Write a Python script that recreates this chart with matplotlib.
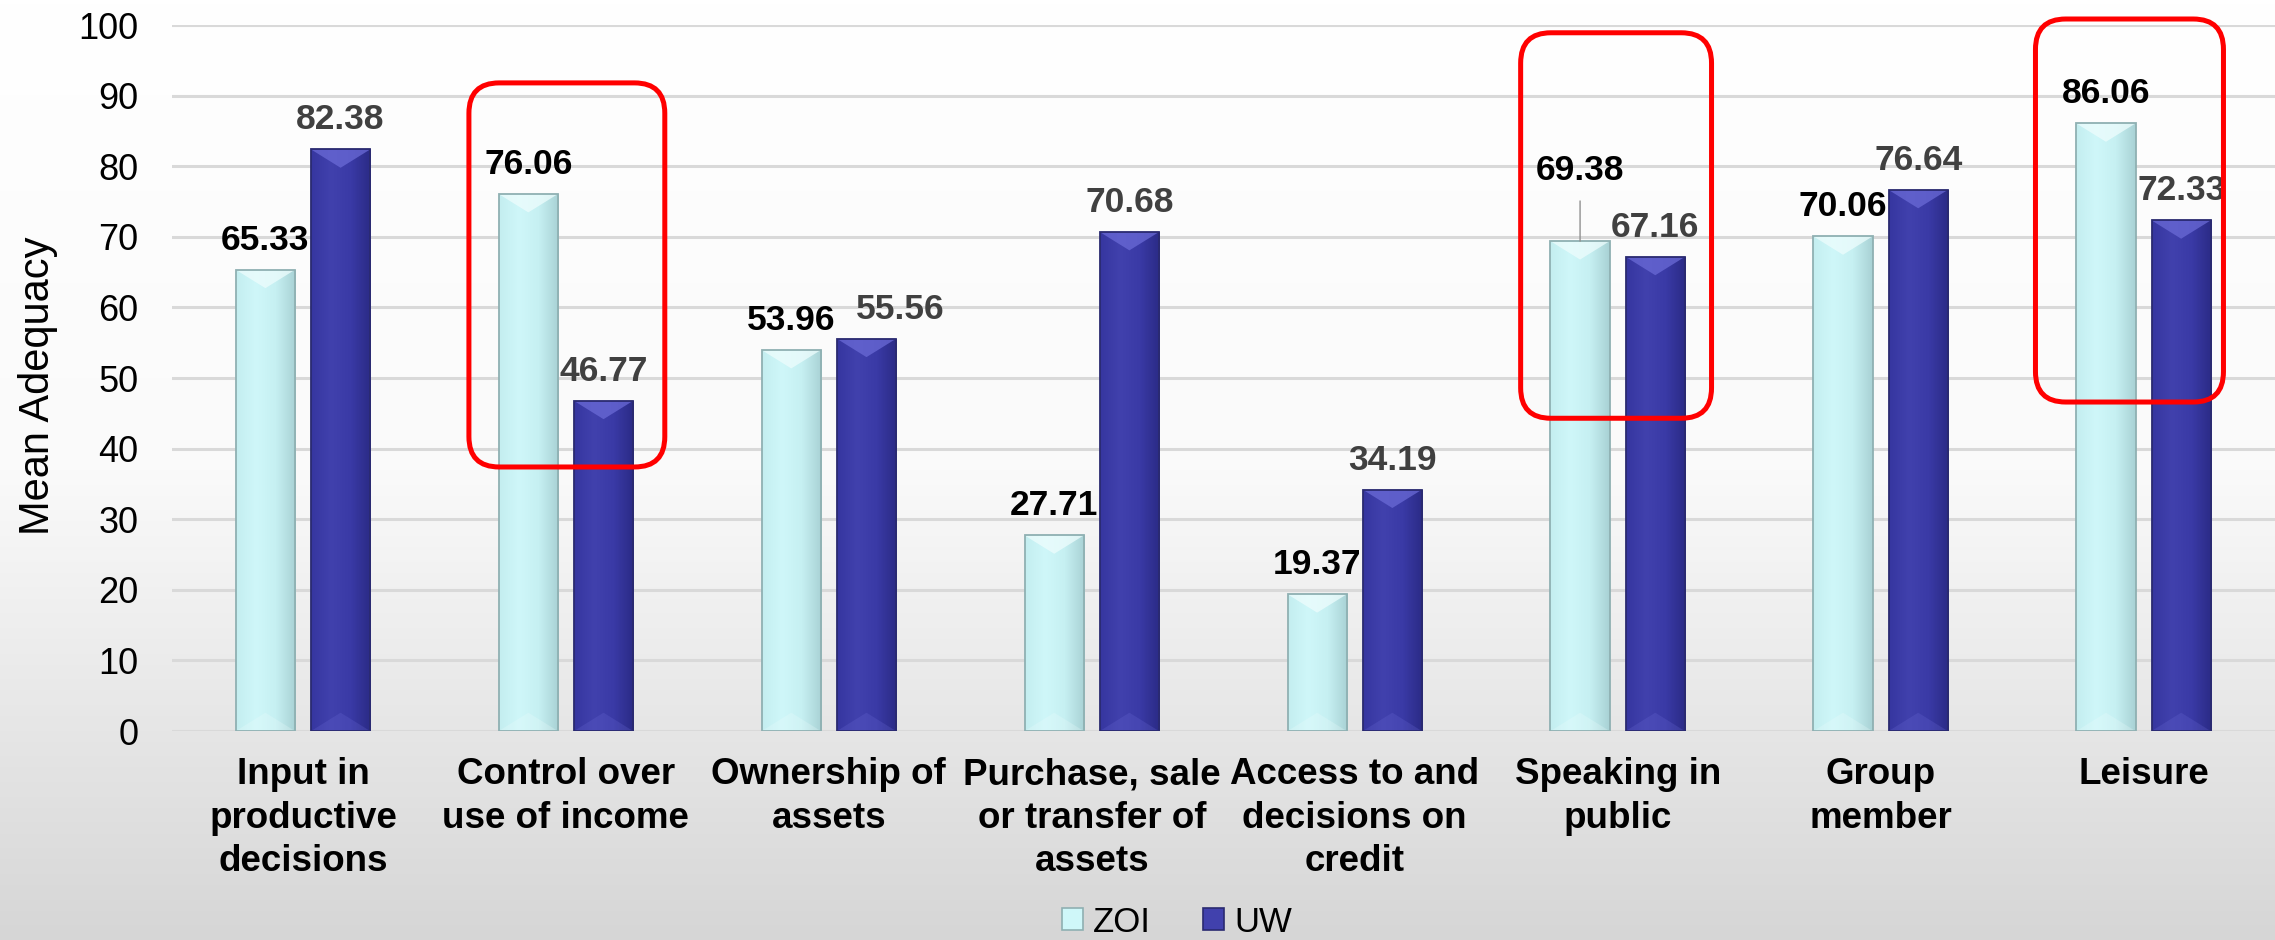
import numpy as np
import matplotlib
matplotlib.use("Agg")
import matplotlib.pyplot as plt
from matplotlib.patches import FancyBboxPatch, Polygon, Patch
from matplotlib.colors import LinearSegmentedColormap

# ---------------- data ----------------
categories = ["Input in\nproductive\ndecisions", "Control over\nuse of income",
              "Ownership of\nassets", "Purchase, sale\nor transfer of\nassets",
              "Access to and\ndecisions on\ncredit", "Speaking in\npublic",
              "Group\nmember", "Leisure"]
zoi = [65.33, 76.06, 53.96, 27.71, 19.37, 69.38, 70.06, 86.06]
uw = [82.38, 46.77, 55.56, 70.68, 34.19, 67.16, 76.64, 72.33]
series_names = ["ZOI", "UW"]
yticks = list(range(0, 101, 10))
ylabel = "Mean Adequacy"

plt.rcParams['font.family'] = ['Liberation Sans', 'DejaVu Sans']

fig = plt.figure(figsize=(22.75, 9.4), dpi=100)

# background gradient
bg = fig.add_axes([0, 0, 1, 1], zorder=-10)
grad = np.linspace(0, 1, 256).reshape(-1, 1)
bg.imshow(grad, aspect='auto', origin='upper', extent=[0, 1, 0, 1],
          cmap=LinearSegmentedColormap.from_list('bg', ['#ffffff', '#fafafa', '#d6d6d6']))
bg.axis('off')

ax = fig.add_axes([0.0754, 0.2223, 0.9246, 0.7511])
ax.patch.set_alpha(0)

x = np.arange(len(categories))
w = 0.225
off = 0.143

styles = {
    "ZOI": dict(grad=['#c4eef0', '#cff7f9', '#c6f0f2', '#a9d2d5'], edge='#8fb0b2',
                bevel='#eefdfd', label_color='#000000'),
    "UW": dict(grad=['#3636a0', '#4141ad', '#3a3aa6', '#2b2b86'], edge='#2a2a70',
               bevel='#6a6ad6', label_color='#404040'),
}

ax.set_xlim(-0.5, len(categories) - 0.5)
ax.set_ylim(0, 100)

for sname, vals, sign in [("ZOI", zoi, -1), ("UW", uw, 1)]:
    st = styles[sname]
    bars = ax.bar(x + sign * off, vals, w, color=st['grad'][1], edgecolor=st['edge'],
                  linewidth=1.3, zorder=3)
    cmap = LinearSegmentedColormap.from_list(sname, st['grad'])
    hg = np.linspace(0, 1, 64).reshape(1, -1)
    for b in bars:
        x0, y0 = b.get_x(), b.get_y()
        bw, bh = b.get_width(), b.get_height()
        im = ax.imshow(hg, aspect='auto', cmap=cmap, extent=[x0, x0 + bw, y0, y0 + bh],
                       zorder=3.5)
        im.set_clip_path(b)
        d = 2.6
        tri = Polygon([(x0, bh), (x0 + bw, bh), (x0 + bw / 2, bh - d)], closed=True,
                      facecolor=st['bevel'], edgecolor='none', alpha=0.75, zorder=3.6)
        ax.add_patch(tri)
        tri2 = Polygon([(x0, 0), (x0 + bw, 0), (x0 + bw / 2, d)], closed=True,
                       facecolor=st['bevel'], edgecolor='none', alpha=0.25, zorder=3.6)
        ax.add_patch(tri2)
        b.set_facecolor('none')
        b.set_zorder(3.8)

ax.set_xlim(-0.5, len(categories) - 0.5)
ax.set_ylim(0, 100)

# value labels (offsets in points: (dx, dy))
label_offsets = {("ZOI", 5): (0, 44), ("UW", 2): (24, 14.4)}
for sname, vals, sign in [("ZOI", zoi, -1), ("UW", uw, 1)]:
    st = styles[sname]
    for i, v in enumerate(vals):
        bx = x[i] + sign * off
        key = (sname, i)
        dx, dy = label_offsets.get(key, (0, 14.4))
        kw = dict(textcoords='offset points', ha='center', va='baseline',
                  fontsize=25.5, fontweight='bold', color=st['label_color'], zorder=7)
        if dy > 30:
            kw['arrowprops'] = dict(arrowstyle='-', color='#909090', lw=1.0,
                                    shrinkA=8, shrinkB=0)
        ax.annotate(f"{v:.2f}", xy=(bx, v), xytext=(dx, dy), **kw)

# grid & axes
ax.set_yticks(yticks)
ax.yaxis.grid(True, color='#d9d9d9', linewidth=2.2)
ax.set_axisbelow(True)
for s in ax.spines.values():
    s.set_visible(False)
ax.tick_params(axis='y', length=0, labelsize=26, pad=24)
ax.set_xticks(x)
ax.set_xticklabels(categories, fontsize=26.5, fontweight='bold', linespacing=1.3)
ax.tick_params(axis='x', length=0, pad=19)

fig.text(0.0165, 0.590, ylabel, rotation=90, ha='center', va='center', fontsize=30)

# highlight boxes
boxes = [(0.631, 37.4, 1.376, 91.8), (4.631, 44.3, 5.357, 98.9), (6.589, 46.6, 7.304, 100.85)]
for (bx0, by0, bx1, by1) in boxes:
    p = FancyBboxPatch((bx0, by0), bx1 - bx0, by1 - by0,
                       boxstyle="round,pad=0,rounding_size=0.115", mutation_aspect=37.4,
                       fill=False, edgecolor='#ff0000', linewidth=3.6, clip_on=False,
                       zorder=8)
    ax.add_patch(p)

# legend
handles = [Patch(facecolor=styles[n]['grad'][1], edgecolor=styles[n]['edge'], linewidth=1.2)
           for n in series_names]
fig.legend(handles, series_names, loc='center', bbox_to_anchor=(1177 / 2275, 18 / 940),
           ncol=2, frameon=False, fontsize=25, handlelength=0.6, handleheight=0.6,
           handletextpad=0.3, columnspacing=1.5)

fig.savefig("out.png", dpi=100)
